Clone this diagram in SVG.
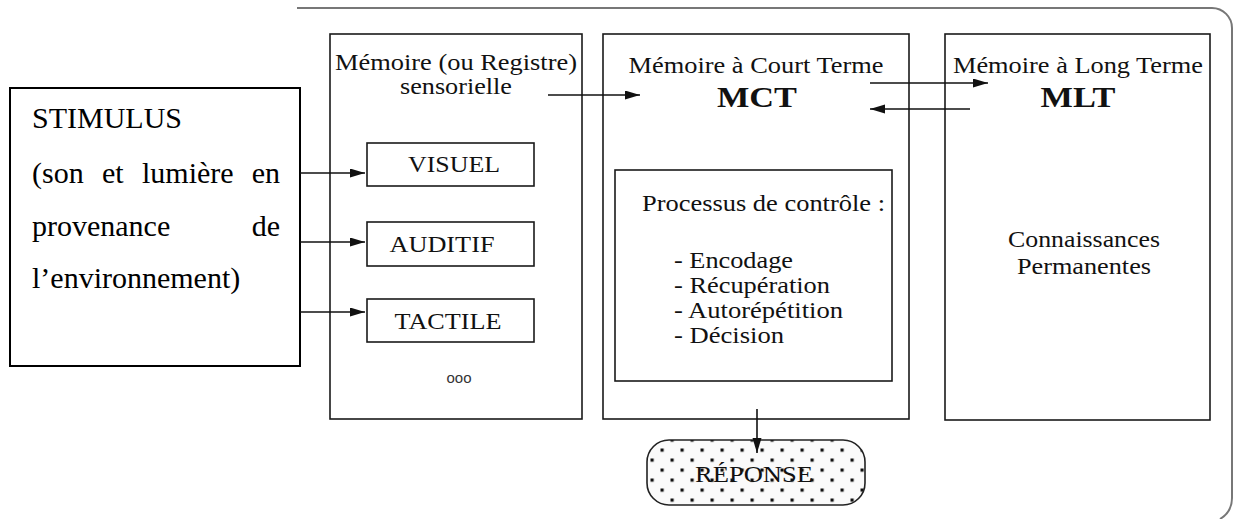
<svg xmlns="http://www.w3.org/2000/svg" width="1233" height="519" viewBox="0 0 1233 519">
<style>
.box{fill:none;stroke:#1a1a1a;stroke-width:1.6}
.lbl{font-size:23px;fill:#111}
.big{font-size:30px;fill:#000}
.bold{font-weight:bold;font-size:30px}
.con{fill:none;stroke:#111;stroke-width:1.6}
</style>
<defs>
<marker id="arr" markerUnits="userSpaceOnUse" markerWidth="16" markerHeight="10" refX="15" refY="4.5" orient="auto">
<path d="M0,0 L15,4.5 L0,9 z" fill="#111"/>
</marker>
<pattern id="dots" patternUnits="userSpaceOnUse" x="660.5" y="448.5" width="20" height="20">
<rect width="20" height="20" fill="#fafafa"/>
<rect x="0" y="0" width="3.2" height="3.2" fill="#111"/>
<rect x="10" y="10" width="3.2" height="3.2" fill="#111"/>
</pattern>
</defs>

<g font-family="Liberation Serif, DejaVu Serif, serif">
<g id="frame">
<path d="M297,8 H1212 A20,20 0 0 1 1232,28 V498 Q1232,512 1220,519" fill="none" stroke="#777" stroke-width="2"/>
</g>

<g id="stimulus">
<rect x="10" y="88" width="290" height="278" fill="none" stroke="#000" stroke-width="2"/>
<text class="big" x="32" y="128">STIMULUS</text>
<text class="big" y="183"><tspan x="32">(son</tspan><tspan x="102">et</tspan><tspan x="142">lumière</tspan><tspan x="280" text-anchor="end">en</tspan></text>
<text class="big" y="236"><tspan x="32">provenance</tspan><tspan x="280" text-anchor="end">de</tspan></text>
<text class="big" x="32" y="288">l’environnement)</text>
</g>

<g id="sensorielle">
<rect class="box" x="330" y="34" width="252" height="385"/>
<text class="lbl" x="456" y="70" text-anchor="middle" textLength="242" lengthAdjust="spacingAndGlyphs">Mémoire (ou Registre)</text>
<text class="lbl" x="456" y="94" text-anchor="middle" textLength="112" lengthAdjust="spacingAndGlyphs">sensorielle</text>
<text x="459" y="383" text-anchor="middle" font-family="Liberation Sans, Arial, sans-serif" font-size="15" fill="#333">ooo</text>
</g>

<g id="visuel">
<rect class="box" x="367" y="143" width="167" height="43"/>
<text class="lbl" x="454" y="172" text-anchor="middle" textLength="92" lengthAdjust="spacingAndGlyphs">VISUEL</text>
</g>
<g id="auditif">
<rect class="box" x="367" y="222" width="167" height="44"/>
<text class="lbl" x="442" y="252" text-anchor="middle" textLength="105" lengthAdjust="spacingAndGlyphs">AUDITIF</text>
</g>
<g id="tactile">
<rect class="box" x="367" y="299" width="167" height="43"/>
<text class="lbl" x="448" y="329" text-anchor="middle" textLength="107" lengthAdjust="spacingAndGlyphs">TACTILE</text>
</g>

<g id="mct">
<rect class="box" x="603" y="34" width="306" height="385"/>
<text class="lbl" x="756" y="73" text-anchor="middle" textLength="255" lengthAdjust="spacingAndGlyphs">Mémoire à Court Terme</text>
<text class="lbl bold" x="757" y="107" text-anchor="middle" textLength="80" lengthAdjust="spacingAndGlyphs">MCT</text>
</g>

<g id="processus">
<rect class="box" x="615" y="170" width="277" height="211"/>
<text class="lbl" x="642" y="211" textLength="243" lengthAdjust="spacingAndGlyphs">Processus de contrôle :</text>
<text class="lbl" x="674" y="268" textLength="119" lengthAdjust="spacingAndGlyphs">- Encodage</text>
<text class="lbl" x="674" y="293" textLength="156" lengthAdjust="spacingAndGlyphs">- Récupération</text>
<text class="lbl" x="674" y="318" textLength="169" lengthAdjust="spacingAndGlyphs">- Autorépétition</text>
<text class="lbl" x="674" y="343" textLength="110" lengthAdjust="spacingAndGlyphs">- Décision</text>
</g>

<g id="mlt">
<rect class="box" x="945" y="34" width="265" height="386"/>
<text class="lbl" x="1078" y="73" text-anchor="middle" textLength="250" lengthAdjust="spacingAndGlyphs">Mémoire à Long Terme</text>
<text class="lbl bold" x="1078" y="107" text-anchor="middle" textLength="75" lengthAdjust="spacingAndGlyphs">MLT</text>
<text class="lbl" x="1084" y="247" text-anchor="middle" textLength="152" lengthAdjust="spacingAndGlyphs">Connaissances</text>
<text class="lbl" x="1084" y="274" text-anchor="middle" textLength="134" lengthAdjust="spacingAndGlyphs">Permanentes</text>
</g>

<g id="reponse">
<rect x="647" y="440" width="218" height="65" rx="22" ry="22" fill="url(#dots)" stroke="#222" stroke-width="1.6"/>
<text class="lbl" x="754" y="482" text-anchor="middle" textLength="118" lengthAdjust="spacingAndGlyphs">RÉPONSE</text>
</g>

<g id="connectors">
<line class="con" x1="300" y1="173" x2="365" y2="173" marker-end="url(#arr)"/>
<line class="con" x1="300" y1="242" x2="365" y2="242" marker-end="url(#arr)"/>
<line class="con" x1="300" y1="312" x2="365" y2="312" marker-end="url(#arr)"/>
<line class="con" x1="548" y1="95" x2="640" y2="95" marker-end="url(#arr)"/>
<line class="con" x1="870" y1="83" x2="988" y2="83" marker-end="url(#arr)"/>
<line class="con" x1="970" y1="109" x2="870" y2="109" marker-end="url(#arr)"/>
<line class="con" x1="757" y1="409" x2="757" y2="453" marker-end="url(#arr)"/>
</g>
</g>
</svg>
